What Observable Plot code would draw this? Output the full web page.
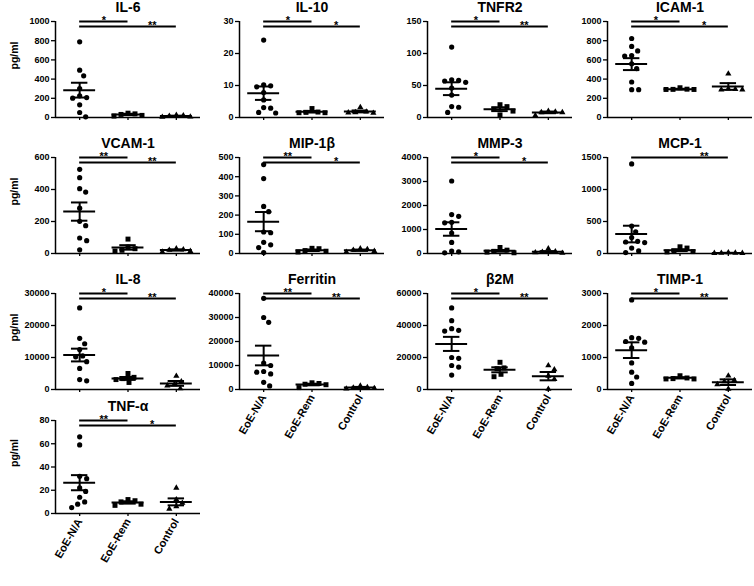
<!DOCTYPE html>
<html><head><meta charset="utf-8">
<script src="https://cdn.jsdelivr.net/npm/d3@7"></script>
<script src="https://cdn.jsdelivr.net/npm/@observablehq/plot@0.6"></script>
<style>
body{margin:0;background:#fff;}
#chart{position:relative;width:754px;height:586px;overflow:hidden;background:#fff;}
#chart svg{position:absolute;}
</style></head><body><div id="chart"></div>
<script>
const categories = ["EoE-N/A", "EoE-Rem", "Control"];
const titles = ["IL-6", "IL-10", "TNFR2", "ICAM-1", "VCAM-1", "MIP-1β", "MMP-3", "MCP-1", "IL-8", "Ferritin", "β2M", "TIMP-1", "TNF-α"];
const yMax  = [1000, 30, 150, 1000, 600, 500, 4000, 1500, 30000, 40000, 60000, 3000, 80];
const yStep = [200, 10, 50, 200, 200, 100, 1000, 500, 10000, 10000, 20000, 1000, 20];

const naValues = [
  [788, 493, 434, 302, 226, 208, 201, 132, 52, 7],
  [24.2, 10.2, 9.9, 9.6, 7.8, 5.5, 3.1, 2.9, 1.6, 1.4],
  [110, 59, 58, 57, 55, 46, 35, 17, 16, 8],
  [823, 740, 694, 645, 640, 560, 510, 370, 290, 290],
  [526, 474, 405, 384, 283, 201, 174, 97, 80, 23],
  [463, 390, 245, 218, 112, 108, 58, 45, 31, 5],
  [3020, 1620, 1550, 1300, 1280, 850, 460, 100, 70, 30],
  [1400, 430, 340, 250, 190, 180, 170, 85, 40, 15],
  [25500, 16000, 14300, 12500, 10500, 10200, 8700, 6600, 3100, 2700],
  [38000, 30000, 28000, 11000, 10000, 7500, 7200, 6500, 3000, 1500],
  [51000, 43000, 38000, 37000, 36500, 20000, 19500, 15000, 14000, 9000],
  [2800, 1620, 1600, 1500, 1480, 1300, 830, 540, 390, 190],
  [66, 59, 32, 30, 22, 19, 14, 10, 8, 5]
];
const remValues = [
  [45, 38, 32, 22, 15],
  [2.8, 1.7, 1.5, 1.5, 1.6],
  [20, 17, 13, 10, 4],
  [310, 295, 293, 292, 292],
  [90, 40, 30, 20, 15],
  [27, 25, 15, 12, 8],
  [250, 140, 90, 60, 30],
  [105, 85, 35, 30, 25],
  [5000, 3800, 3400, 3100, 2200],
  [2800, 2500, 2200, 2000, 800],
  [17000, 13500, 13000, 9500, 8000],
  [430, 360, 340, 330, 330],
  [12, 11, 10, 8, 7]
];
const controlValues = [
  [25, 20, 15, 8, 5],
  [3.2, 1.8, 1.5, 1.6, 1.4],
  [10, 9, 8, 8, 3],
  [455, 300, 295, 290, 290],
  [30, 25, 22, 15, 10],
  [25, 22, 18, 12, 8],
  [200, 80, 60, 40, 20],
  [15, 10, 8, 5, 5],
  [4200, 2500, 1600, 1200, 300],
  [1500, 900, 700, 500, 300],
  [15000, 12500, 8500, 6500, 300],
  [430, 290, 250, 160, 20],
  [22, 12, 9, 6, 4]
];
const means = [
  [285, 32, 15], [7.6, 1.8, 1.9], [45, 13, 8], [556, 295, 323],
  [262, 38, 22], [166, 17, 17], [1020, 112, 70], [304, 52, 9],
  [10770, 3450, 1900], [14170, 2080, 830], [28500, 12300, 8330], [1229, 365, 229],
  [26.5, 9.5, 10]
];
const sems = [
  [77, 7, 4], [2.1, 0.25, 0.3], [10, 3, 1.3], [62, 4, 35],
  [57, 14, 4], [50, 4, 3.5], [280, 35, 30], [130, 15, 2],
  [1990, 450, 750], [4100, 330, 250], [4400, 1570, 2600], [245, 20, 88],
  [6.5, 1, 3]
];
// significance: [EoE-N/A vs EoE-Rem, EoE-N/A vs Control]
const sigLabels = [
  ["*", "**"], ["*", "*"], ["*", "**"], ["*", "*"],
  ["**", "**"], ["**", "*"], ["*", "*"], [null, "**"],
  ["*", "**"], ["**", "**"], ["*", "**"], ["*", "**"],
  ["**", "*"]
];

// ---- layout / style ----
const FONT = "'Liberation Sans', Arial, Helvetica, sans-serif";
const colAxisX = [55, 239, 427, 607];
const rowTopTick = [21, 157, 293, 420];
const rowPlotH = [96, 96, 96, 93];
const PLOT_W = 145, ML = 48, MR = 4, MT = 21;
const symbols = ["circle", "square", "triangle"];
const symR = [2.6, 2.8, 2.3];

function swarmOffsets(values, ymax, plotH) {
  const dmin = 6.8;
  const placed = [];
  const offs = new Array(values.length);
  const order = d3.range(values.length).sort((a, b) => values[b] - values[a]);
  for (const k of order) {
    const py = values[k] / ymax * plotH;
    for (let j = 0; j < 80; j++) {
      const cand = (j % 2 === 1 ? 1 : -1) * Math.ceil(j / 2);
      const ok = placed.every(p => Math.hypot(p.x - cand, p.y - py) >= dmin);
      if (ok) { offs[k] = cand; placed.push({x: cand, y: py}); break; }
    }
  }
  return offs;
}

const chart = document.getElementById("chart");
titles.forEach((title, i) => {
  const row = Math.floor(i / 4), col = i % 4;
  const plotH = rowPlotH[row];
  const showLabels = i >= 9;
  const MB = showLabels ? 70 : 8;
  const ymax = yMax[i];
  const step = PLOT_W / 3;
  const groups = [naValues[i], remValues[i], controlValues[i]];
  const stats = categories.map((c, g) => ({g, mean: means[i][g], sem: sems[i][g]}));
  const sigs = [];
  sigLabels[i].forEach((lab, k) => { if (lab) sigs.push({from: 0, to: k + 1, label: lab}); });
  const ticks = d3.range(0, ymax + yStep[i] / 2, yStep[i]);

  const dotMarks = groups.map((vals, g) => {
    const offs = swarmOffsets(vals, ymax, plotH);
    const pts = vals.map((v, k) => ({v, x: g + offs[k] / step}));
    return Plot.dot(pts, {x: "x", y: "v", symbol: symbols[g], r: symR[g], fill: "black", stroke: "none"});
  });

  const sigMarks = sigs.flatMap((s, lvl) => [
    Plot.ruleY([ymax], {x1: s.from, x2: s.to, dy: lvl * 5, strokeWidth: 1.8}),
    Plot.text([s.label], {x: s.to - 0.5, y: ymax, dy: lvl * 5 + 2.5, lineAnchor: "bottom", text: d => d, fontSize: 11, fontWeight: "bold"})
  ]);

  const marks = [
    Plot.ruleX([-0.5], {y1: 0, y2: ymax, strokeWidth: 1.5}),
    Plot.ruleY([0], {strokeWidth: 1.5}),
    Plot.axisY({ticks, tickSize: 4, tickPadding: 2, tickFormat: d => String(d), fontSize: 9, fontWeight: "bold", strokeWidth: 1.3, label: null}),
    Plot.axisX({ticks: [0, 1, 2], tickSize: 3, strokeWidth: 1.3, tickPadding: 3,
      tickFormat: showLabels ? (d => categories[d]) : (() => ""),
      tickRotate: showLabels ? -60 : 0, fontSize: 11, fontWeight: "bold", label: null}),
    ...dotMarks,
    Plot.ruleY(stats, {y: "mean", x1: d => d.g - 0.33, x2: d => d.g + 0.33, strokeWidth: 2}),
    Plot.ruleY(stats, {y: d => d.mean + d.sem, x1: d => d.g - 0.17, x2: d => d.g + 0.17, strokeWidth: 2}),
    Plot.ruleY(stats, {y: d => d.mean - d.sem, x1: d => d.g - 0.17, x2: d => d.g + 0.17, strokeWidth: 2}),
    Plot.ruleX(stats, {x: "g", y1: d => d.mean - d.sem, y2: d => d.mean + d.sem, strokeWidth: 2}),
    ...sigMarks,
    Plot.text([title], {frameAnchor: "top", dy: -14, lineAnchor: "middle", text: d => d, fontSize: 14, fontWeight: "bold"})
  ];
  if (col === 0) {
    marks.push(Plot.text(["pg/ml"], {frameAnchor: "left", dx: -41, rotate: -90, text: d => d, fontSize: 10.5, fontWeight: "bold"}));
  }

  const svg = Plot.plot({
    width: ML + PLOT_W + MR,
    height: MT + plotH + MB,
    marginLeft: ML, marginRight: MR, marginTop: MT, marginBottom: MB,
    x: {type: "linear", domain: [-0.5, 2.5]},
    y: {type: "linear", domain: [0, ymax]},
    style: {fontFamily: FONT, fontSize: "9px", fontWeight: "bold", background: "transparent", color: "black", overflow: "visible"},
    marks
  });
  svg.style.left = (colAxisX[col] - ML) + "px";
  svg.style.top = (rowTopTick[row] - MT) + "px";
  chart.appendChild(svg);
});
</script></body></html>
